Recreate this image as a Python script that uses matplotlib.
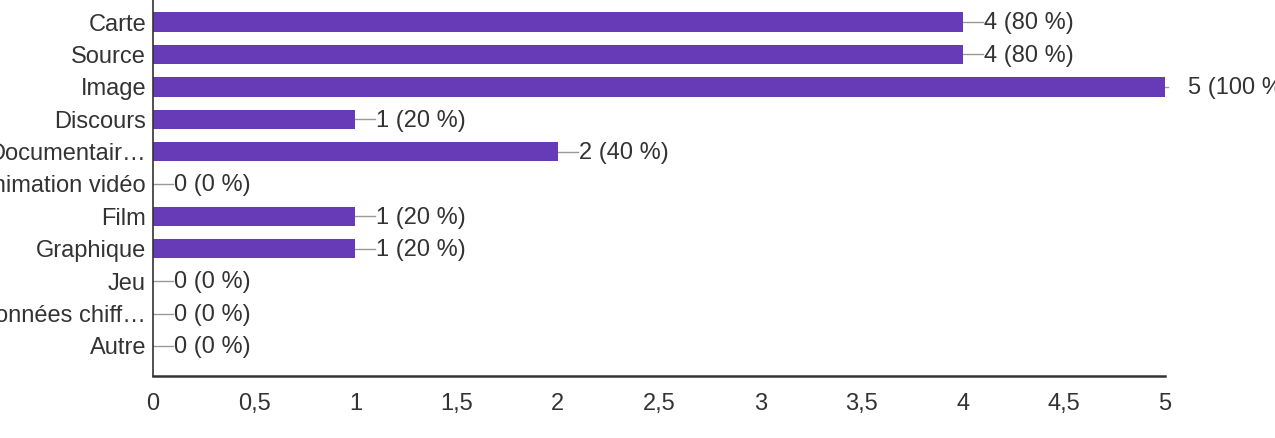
import matplotlib
matplotlib.use("Agg")
import matplotlib.pyplot as plt

categories = ["Carte", "Source", "Image", "Discours", "Documentair…", "Animation vidéo",
              "Film", "Graphique", "Jeu", "Données chiff…", "Autre"]
counts = [4, 4, 5, 1, 2, 0, 1, 1, 0, 0, 0]
percents = [80, 80, 100, 20, 40, 0, 20, 20, 0, 0, 0]
xticks = [0, 0.5, 1, 1.5, 2, 2.5, 3, 3.5, 4, 4.5, 5]
xtick_labels = ["0", "0,5", "1", "1,5", "2", "2,5", "3", "3,5", "4", "4,5", "5"]

plt.rcParams['font.family'] = ['Liberation Sans', 'DejaVu Sans']

FS = 17
TXT = "#333333"
W, H = 1275, 438
fig = plt.figure(figsize=(W / 100, H / 100), dpi=100)
ax_left, ax_right = 153, 1165
ax_bottom_px, ax_top_px = 376, -8
ax = fig.add_axes([ax_left / W, (H - ax_bottom_px) / H,
                   (ax_right - ax_left) / W, (ax_bottom_px - ax_top_px) / H])

ys = list(range(len(categories)))
ax.barh(ys, counts, height=0.6, color="#673ab7", edgecolor="none", zorder=2)

px = 5.0 / (ax_right - ax_left)  # data units per pixel
for y, c, p in zip(ys, counts, percents):
    if c >= 5:
        ax.plot([c, c + 3 * px], [y, y], color="#999999", lw=1, clip_on=False, zorder=1)
        ax.text(c + 23 * px, y + 0.04, f"{c} ({p} %)", va="center", ha="left",
                fontsize=FS, color=TXT, clip_on=False)
    else:
        ax.plot([c, c + 20 * px], [y, y], color="#999999", lw=1, clip_on=False, zorder=1)
        ax.text(c + 21 * px, y + 0.04, f"{c} ({p} %)", va="center", ha="left",
                fontsize=FS, color=TXT, clip_on=False)

ax.set_xlim(0, 5)
ax.set_ylim(len(categories) - 1 + 0.93, -0.93)
ax.set_yticks(ys)
ax.set_yticklabels(categories, fontsize=FS, color=TXT)
ax.set_xticks(xticks)
ax.set_xticklabels(xtick_labels, fontsize=FS, color=TXT)
ax.tick_params(axis="y", length=0, pad=5)
ax.tick_params(axis="x", length=0, pad=12)

for s in ["top", "right"]:
    ax.spines[s].set_visible(False)
ax.spines["left"].set_color("#333333")
ax.spines["left"].set_linewidth(1.2)
ax.spines["bottom"].set_color("#333333")
ax.spines["bottom"].set_linewidth(1.8)

fig.savefig("out.png", dpi=100)
